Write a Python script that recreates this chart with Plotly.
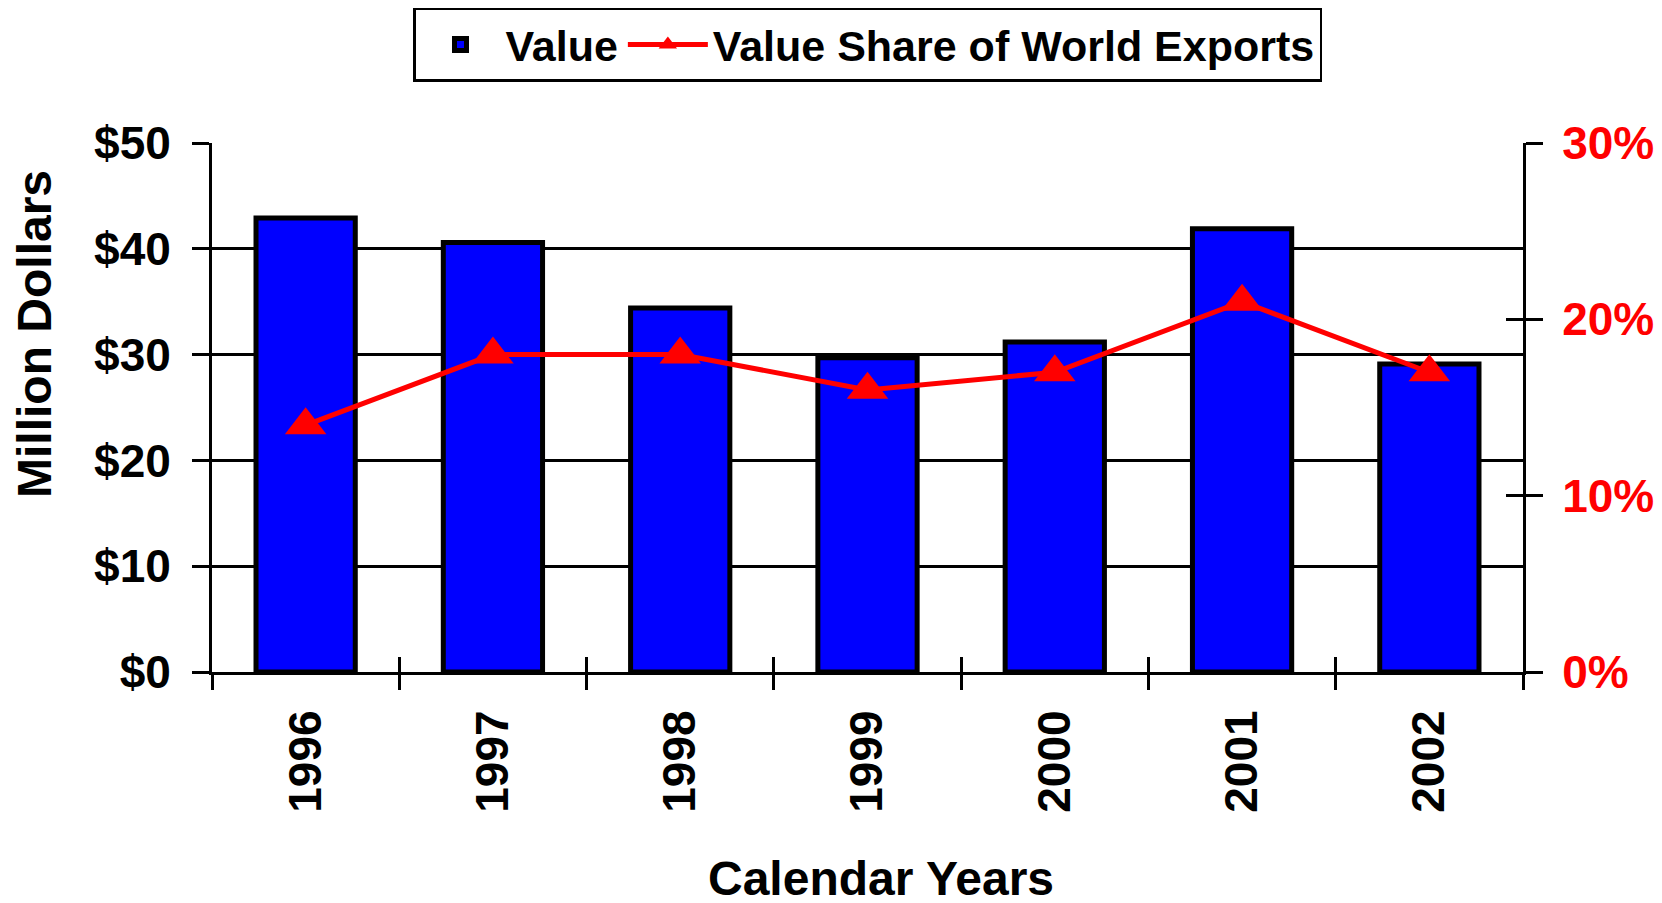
import plotly.graph_objects as go

years = ["1996", "1997", "1998", "1999", "2000", "2001", "2002"]
value_musd = [42.9, 40.6, 34.4, 29.7, 31.2, 41.9, 29.1]
share_pct = [14.0, 18.0, 18.0, 16.0, 17.0, 21.0, 17.0]
left_ticks = [0, 10, 20, 30, 40, 50]
left_labels = ["$" + str(v) for v in left_ticks]
right_ticks = [0, 10, 20, 30]
right_labels = [str(v) + "%" for v in right_ticks]

FONT = "Liberation Sans, Arial, sans-serif"

fig = go.Figure()
fig.add_trace(go.Bar(
    x=years, y=value_musd, name="Value",
    marker=dict(color="#0000FF", line=dict(color="black", width=5)),
    yaxis="y",
))
fig.add_trace(go.Scatter(
    x=years, y=share_pct, name="Value Share of World Exports",
    mode="lines+markers",
    line=dict(color="#FF0000", width=5),
    marker=dict(symbol="triangle-up", size=36, color="#FF0000"),
    yaxis="y2",
))
# helper traces carrying the inner halves of the crossing ticks
fig.add_trace(go.Scatter(x=years, y=share_pct, xaxis="x", yaxis="y3", mode="none",
                         showlegend=False, hoverinfo="skip"))
fig.add_trace(go.Scatter(x=years, y=value_musd, xaxis="x2", yaxis="y", mode="none",
                         showlegend=False, hoverinfo="skip"))

tickfont_black = dict(family=FONT, size=46, color="black", weight="bold")
tickfont_red = dict(family=FONT, size=46, color="#FF0000", weight="bold")
title_font = dict(family=FONT, size=48, color="black", weight="bold")

fig.update_layout(
    width=1662, height=903,
    margin=dict(l=204, r=147, t=135, b=239, autoexpand=False),
    paper_bgcolor="white", plot_bgcolor="white",
    bargap=0.47,
    font=dict(family=FONT, color="black"),
    showlegend=True,
    legend=dict(
        orientation="h", x=0.5, xanchor="center", y=1.256, yanchor="top",
        font=dict(family=FONT, size=43, color="black", weight="bold"),
        bordercolor="black", borderwidth=2.5, bgcolor="white",
        itemwidth=80, traceorder="normal",
    ),
    xaxis=dict(
        type="category", categoryorder="array", categoryarray=years,
        range=[-0.5, 6.5],
        showline=True, linecolor="black", linewidth=3,
        ticks="outside", tickson="boundaries", ticklen=15, tickwidth=3, tickcolor="black",
        tickangle=-90, tickfont=tickfont_black, ticklabelstandoff=17,
        showgrid=False, zeroline=False, automargin=False,
    ),
    xaxis2=dict(
        type="category", categoryorder="array", categoryarray=years,
        range=[-0.5, 6.5],
        overlaying="x", anchor="y", side="bottom",
        ticks="inside", tickson="boundaries", ticklen=15, tickwidth=3, tickcolor="black",
        showticklabels=False, showgrid=False, zeroline=False, showline=False,
    ),
    yaxis=dict(
        range=[0, 50], tickmode="array", tickvals=left_ticks, ticktext=left_labels,
        showline=True, linecolor="black", linewidth=3,
        ticks="outside", ticklen=17, tickwidth=3, tickcolor="black",
        showgrid=True, gridcolor="black", gridwidth=3,
        zeroline=False, tickfont=tickfont_black, ticklabelstandoff=12,
        automargin=False,
    ),
    yaxis2=dict(
        range=[0, 30], tickmode="array", tickvals=right_ticks, ticktext=right_labels,
        overlaying="y", side="right", anchor="x",
        showline=True, linecolor="black", linewidth=3,
        ticks="outside", ticklen=17, tickwidth=3, tickcolor="black",
        showgrid=False, zeroline=False, tickfont=tickfont_red, ticklabelstandoff=10,
        automargin=False,
    ),
    yaxis3=dict(
        range=[0, 30], tickmode="array", tickvals=right_ticks,
        overlaying="y", side="right", anchor="x",
        ticks="inside", ticklen=17, tickwidth=3, tickcolor="black",
        showticklabels=False, showgrid=False, zeroline=False, showline=False,
    ),
    annotations=[
        dict(text="Million Dollars", textangle=-90, xref="paper", yref="paper",
             x=-0.135, y=0.639, xanchor="center", yanchor="middle",
             showarrow=False, font=title_font),
        dict(text="Calendar Years", xref="paper", yref="paper",
             x=0.510, y=-0.390, xanchor="center", yanchor="middle",
             showarrow=False, font=title_font),
    ],
)

fig.write_html("out.html")
